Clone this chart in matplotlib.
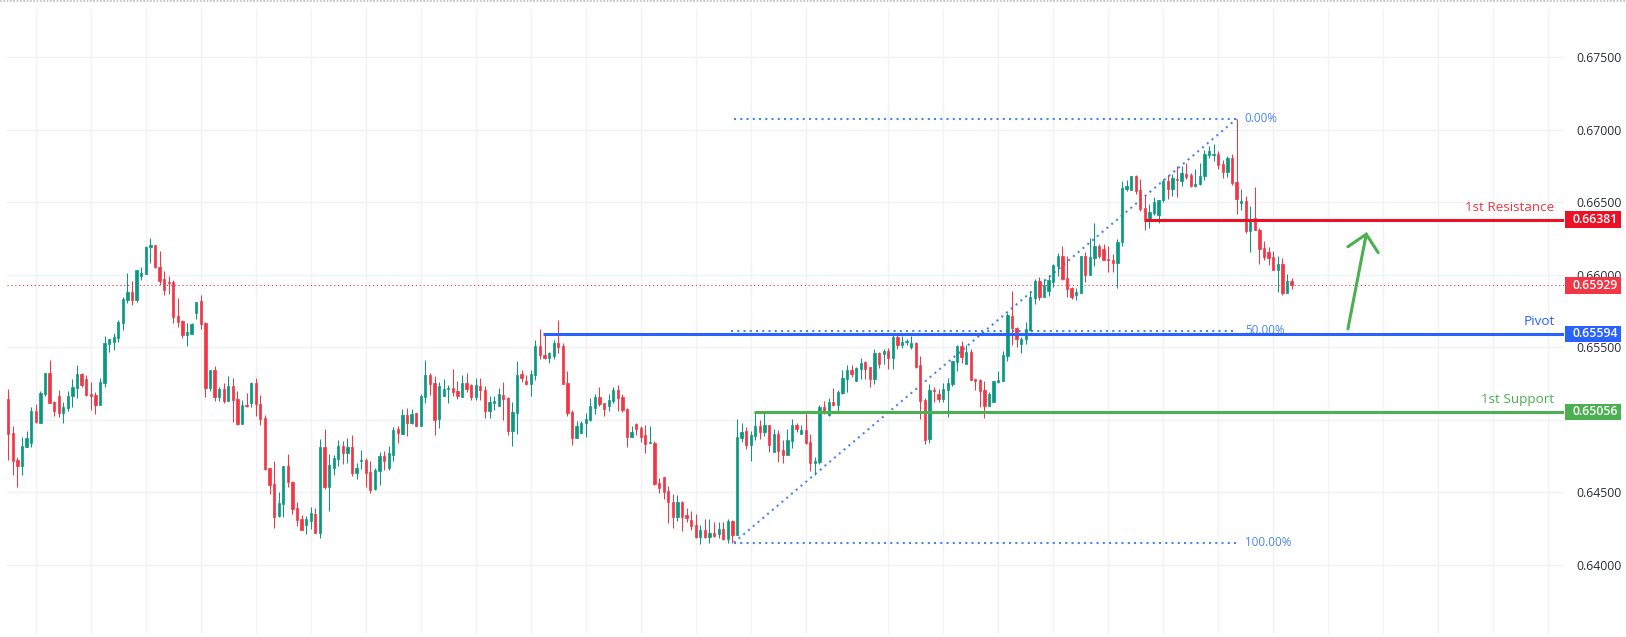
import numpy as np
from matplotlib import pyplot as plt
from matplotlib.lines import Line2D
from matplotlib.patches import Rectangle

# candle prices in points (price * 100000)
opens = [65145,64911,64724,64683,64814,64842,65063,64980,65180,65325,
    65125,65166,65049,65083,65166,65221,65318,65283,65180,65173,
    65104,65256,65525,65539,65566,65670,65829,65884,65829,65994,
    66008,66194,66208,66056,65973,65953,65953,65718,65684,65587,
    65594,65739,65822,65670,65221,65345,65159,65214,65132,65235,
    65145,64973,65104,65118,65256,65111,65014,64669,64559,64338,
    64421,64683,64573,64394,64318,64276,64304,64352,64221,64814,
    64538,64669,64732,64821,64773,64814,64635,64718,64725,64642,
    64525,64649,64752,64670,64759,64938,64904,65035,64980,65049,
    64959,65159,65311,65256,65007,65166,65215,65221,65201,65159,
    65256,65242,65159,65235,65207,65063,65118,65097,65173,65152,
    64925,65049,65318,65270,65249,65311,65511,65449,65428,65442,
    65532,65511,65256,65056,64876,64911,64980,65001,65083,65159,
    65118,65097,65132,65207,65159,65076,64883,64973,64945,64897,
    64842,64842,64566,64607,64511,64435,64331,64435,64345,64311,
    64276,64194,64242,64194,64221,64214,64249,64180,64304,64207,
    64876,64925,64828,64890,64959,64918,64966,64780,64904,64794,
    64759,64856,64966,64904,64932,64849,64704,64711,65090,65035,
    65125,65104,65187,65284,65345,65270,65353,65401,65366,65284,
    65463,65456,65477,65429,65574,65518,65541,65504,65532,65380,
    65139,64870,65207,65180,65145,65207,65249,65401,65511,65387,
    65470,65284,65277,65207,65097,65125,65263,65270,65442,65718,
    65635,65525,65559,65622,65842,65960,65849,65891,65953,66063,
    66132,65980,65912,65863,65877,66132,66001,66118,66201,66180,
    66111,66105,66084,66229,66594,66587,66684,66587,66464,66381,
    66429,66415,66519,66650,66594,66663,66650,66698,66691,66615,
    66629,66684,66829,66829,66836,66767,66712,66808,66643,66498,
    66511,66305,66394,66311,66187,66160,66125,66035,66077,65877,
    65960]
highs = [65214,64959,64745,64883,64925,65090,65111,65201,65325,65415,
    65132,65207,65125,65201,65283,65380,65325,65311,65263,65194,
    65290,65580,65560,65601,65691,65849,66015,65959,66035,66056,
    66201,66256,66208,66167,66029,65994,65966,65842,65691,65670,
    65670,65815,65863,65677,65345,65373,65228,65256,65304,65290,
    65201,65139,65187,65263,65290,65173,65035,64669,64718,64504,
    64683,64766,64580,64435,64345,64338,64400,64394,64870,64939,
    64766,64759,64863,64856,64876,64897,64704,64794,64739,64718,
    64670,64780,64787,64821,64952,64959,65076,65083,65076,65049,
    65180,65415,65325,65304,65263,65284,65242,65352,65270,65311,
    65325,65249,65290,65290,65235,65166,65166,65221,65263,65159,
    65125,65407,65345,65311,65345,65552,65628,65594,65470,65552,
    65690,65532,65339,65070,64994,64994,65049,65152,65180,65228,
    65118,65180,65228,65242,65180,65083,64959,64980,64959,64966,
    64959,64856,64600,64607,64545,64490,64483,64442,64394,64373,
    64352,64276,64318,64318,64297,64297,64297,64318,64311,65008,
    64980,64952,64925,65049,65001,65049,64966,64939,64932,64863,
    64939,65008,64980,64966,65049,64904,64745,65104,65132,65152,
    65221,65207,65345,65380,65380,65366,65429,65407,65366,65490,
    65470,65490,65497,65587,65598,65580,65559,65580,65539,65442,
    65152,65249,65228,65215,65256,65290,65407,65518,65546,65518,
    65490,65284,65284,65270,65194,65270,65339,65477,65739,65891,
    65642,65574,65677,65891,65973,65987,65973,66001,66077,66153,
    66201,66132,65919,65912,66132,66160,66256,66360,66215,66215,
    66201,66146,66250,66650,66657,66684,66691,66663,66553,66491,
    66540,66519,66663,66691,66698,66753,66753,66774,66705,66732,
    66774,66864,66891,66905,66857,66795,66822,66836,67077,66595,
    66546,66477,66608,66325,66235,66194,66167,66132,66118,66008,
    65980]
lows = [64724,64621,64538,64621,64814,64814,64980,64980,65166,65118,
    65028,65021,64980,65063,65090,65152,65228,65166,65070,65042,
    65104,65228,65470,65484,65539,65621,65808,65794,65815,65966,
    66008,66084,66049,65932,65863,65870,65670,65642,65566,65511,
    65594,65697,65628,65159,65201,65132,65132,65118,65132,64987,
    64966,64973,65090,65090,65028,64966,64655,64490,64255,64331,
    64331,64538,64352,64269,64242,64214,64249,64221,64187,64525,
    64373,64621,64683,64697,64704,64614,64593,64663,64538,64497,
    64518,64552,64656,64656,64718,64842,64904,64890,64973,64959,
    64959,65118,65173,64897,64945,65166,65118,65166,65145,65159,
    65194,65139,65139,65139,65014,65014,65070,65097,65001,64897,
    64821,64904,65263,65242,65166,65276,65421,65421,65394,65421,
    65463,65249,65028,64828,64876,64911,64883,64994,65042,65097,
    65028,65063,65118,65063,65056,64814,64883,64897,64849,64773,
    64842,64552,64497,64456,64290,64255,64304,64235,64297,64242,
    64187,64145,64187,64152,64194,64187,64173,64152,64152,64207,
    64849,64800,64718,64863,64870,64890,64780,64780,64711,64704,
    64759,64808,64918,64904,64835,64649,64621,64697,65042,65028,
    65097,65049,65180,65194,65297,65270,65284,65284,65228,65249,
    65359,65387,65353,65353,65490,65497,65518,65490,65359,65008,
    64835,64842,65125,65125,65125,65021,65235,65339,65394,65387,
    65277,65207,65090,65014,65097,65125,65256,65270,65407,65518,
    65504,65463,65525,65615,65801,65828,65849,65856,65919,65994,
    65967,65849,65835,65828,65877,65953,66001,66063,66118,66105,
    66022,66022,65912,66201,66581,66587,66560,66443,66312,66325,
    66415,66360,66505,66526,66546,66540,66615,66663,66608,66608,
    66622,66657,66808,66788,66732,66670,66677,66622,66422,66450,
    66291,66160,66311,66077,66105,66070,66035,65884,65863,65877,
    65905]
closes = [64906,64718,64683,64821,64876,65063,64987,65187,65325,65118,
    65063,65049,65090,65166,65228,65318,65242,65173,65166,65104,
    65263,65532,65560,65573,65677,65835,65884,65829,66035,66015,
    66194,66208,66056,65959,65897,65946,65711,65677,65587,65608,
    65663,65815,65663,65221,65345,65159,65214,65132,65235,65139,
    64973,65104,65097,65256,65111,65007,64662,64552,64331,64428,
    64683,64573,64386,64310,64242,64318,64359,64221,64814,64538,
    64690,64739,64821,64773,64814,64635,64669,64725,64635,64518,
    64656,64752,64718,64773,64931,64911,65035,64980,65042,64959,
    65166,65311,65249,65001,65235,65215,65221,65194,65166,65256,
    65215,65159,65242,65207,65063,65125,65132,65180,65145,64925,
    65056,65311,65290,65249,65318,65511,65449,65428,65463,65532,
    65504,65249,65049,64876,64959,64980,65007,65097,65159,65111,
    65076,65139,65207,65152,65070,64883,64918,64938,64883,64835,
    64849,64559,64532,64504,64435,64331,64435,64331,64325,64270,
    64194,64242,64194,64221,64200,64249,64180,64304,64207,64883,
    64918,64828,64897,64959,64918,64966,64828,64904,64787,64759,
    64863,64966,64939,64932,64842,64704,64718,65090,65049,65125,
    65104,65194,65290,65345,65318,65359,65394,65353,65284,65463,
    65387,65477,65429,65574,65518,65539,65545,65532,65366,65132,
    64863,65207,65201,65145,65215,65256,65407,65511,65435,65470,
    65277,65270,65201,65097,65180,65270,65277,65449,65725,65635,
    65559,65559,65629,65849,65960,65849,65932,65967,66070,66132,
    65973,65904,65849,65884,66132,66001,66125,66201,66132,66105,
    66102,66084,66229,66601,66615,66684,66581,66457,66374,66436,
    66505,66519,66650,66594,66670,66657,66705,66677,66615,66629,
    66684,66836,66857,66836,66760,66712,66808,66636,66526,66511,
    66305,66387,66311,66180,66125,66118,66035,66077,65877,65960,
    65929]

price_ticks = [0.64, 0.645, 0.65, 0.655, 0.66, 0.665, 0.67, 0.675]
# the 0.65000 label is hidden on the chart, the support tag sits on it
price_labels = ['0.64000', '0.64500', '', '0.65500', '0.66000', '0.66500', '0.67000', '0.67500']
# bars where the vertical grid falls (not even, the weekend gap skips one)
time_ticks = [6, 18, 30, 42, 54, 66, 78, 90, 102, 114, 126, 138, 150, 162, 174,
    192, 204, 216, 228, 240, 252, 264, 276, 288, 300, 312, 324, 336]

last_price = 0.65929
resistance = 0.66381
pivot = 0.65594
support = 0.65056
fib_high = 0.67076
fib_low = 0.64154
fib_start = 158.3
fib_end = 268

GREEN = '#089981'
RED = '#F23645'
LEVEL_RED = '#EB1226'
BLUE = '#2962FF'
LIME = '#4CAF50'
FIB = '#4A86F0'
GRID = '#F1F2F5'
W, H = 1626, 637

plt.rcParams['font.family'] = ['Open Sans', 'DejaVu Sans']

o = np.array(opens) / 1e5
h = np.array(highs) / 1e5
l = np.array(lows) / 1e5
c = np.array(closes) / 1e5
x = np.arange(len(o))
colors = [GREEN if c[i] > o[i] else RED for i in x]

fig = plt.figure(figsize=(W / 100, H / 100), dpi=100)
ax = fig.add_axes([7 / W, 1 - 633 / H, 1557 / W, 624 / H])
ax.set_xlim(-0.28, 339.45)
ax.set_ylim(0.63531, 0.67834)
ax.set_axisbelow(True)
for s in ax.spines.values():
    s.set_visible(False)

ax.set_xticks(time_ticks)
ax.set_yticks(price_ticks)
ax.set_yticklabels(price_labels)
ax.yaxis.tick_right()
ax.tick_params(axis='x', length=0, labelbottom=False)
ax.tick_params(axis='y', length=0, pad=9, labelsize=8.8, labelcolor='#2A2E39')
ax.grid(color=GRID, lw=1.0)

# last price line
ax.axhline(last_price, color=RED, lw=0.8, ls=(0, (1, 2.5)), zorder=1)

# fib retracement
fib_mid = (fib_high + fib_low) / 2
dots = dict(color=FIB, lw=1.5, ls=(0, (1, 2)), zorder=1.5)
ax.plot([fib_start, fib_end], [fib_high, fib_high], **dots)
ax.plot([fib_start - 0.6, fib_end], [fib_mid, fib_mid], **dots)
ax.plot([fib_start, fib_end], [fib_low, fib_low], **dots)
ax.plot([fib_start, fib_end], [fib_low, fib_high], **dots)
fib_text = dict(color=FIB, fontsize=8.4, va='center', ha='left', zorder=1.5)
ax.text(fib_end + 1.8, fib_high, '0.00%', **fib_text)
ax.text(fib_end + 1.8, fib_mid, '50.00%', **fib_text)
ax.text(fib_end + 1.8, fib_low, '100.00%', **fib_text)

# candles
ax.vlines(x, l, h, colors=colors, lw=0.75, zorder=2)
ax.bar(x, np.abs(c - o), bottom=np.minimum(o, c), width=0.5, color=colors,
       edgecolor=colors, lw=0.5, zorder=3)

# support / resistance levels
ax.plot([248, 339.45], [resistance, resistance], color=LEVEL_RED, lw=2.2, zorder=4, solid_capstyle='butt')
ax.plot([116.6, 339.45], [pivot, pivot], color=BLUE, lw=2.2, zorder=4, solid_capstyle='butt')
ax.plot([162.8, 339.45], [support, support], color=LIME, lw=2.2, zorder=4, solid_capstyle='butt')

label = dict(fontsize=9.7, ha='right', va='center', zorder=4)
ax.text(337.4, resistance + 0.00085, '1st Resistance', color=RED, **label)
ax.text(337.4, pivot + 0.00087, 'Pivot', color=BLUE, **label)
ax.text(337.4, support + 0.00087, '1st Support', color=LIME, **label)

# hand drawn arrow
ax.plot([292.3, 296.3], [0.65628, 0.66281], color=LIME, lw=2.2, zorder=4, solid_capstyle='round')
ax.plot([292.3, 296.3, 298.9], [0.66195, 0.66281, 0.66154], color=LIME, lw=2.2, zorder=4,
        solid_capstyle='round', solid_joinstyle='miter')

# price tags on the scale
trans = ax.get_yaxis_transform()
tags = [(resistance, LEVEL_RED), (last_price, RED), (pivot, BLUE), (support, LIME)]
for price, col in tags:
    ax.add_patch(Rectangle((1.0006, price - 0.00057), 0.036, 0.00114, transform=trans,
                           facecolor=col, edgecolor='none', clip_on=False, zorder=5))
    ax.text(1.0056, price, '%.5f' % price, transform=trans, color='white', fontsize=8.8,
            fontweight='semibold', va='center', ha='left', clip_on=False, zorder=6)

# dotted strip along the top of the screenshot
fig.add_artist(Line2D([0, 1], [0.9985, 0.9985], color='#BDBDBD', lw=1.2, ls=(0, (1, 1))))

fig.savefig('out.png', dpi=100, facecolor='white')
